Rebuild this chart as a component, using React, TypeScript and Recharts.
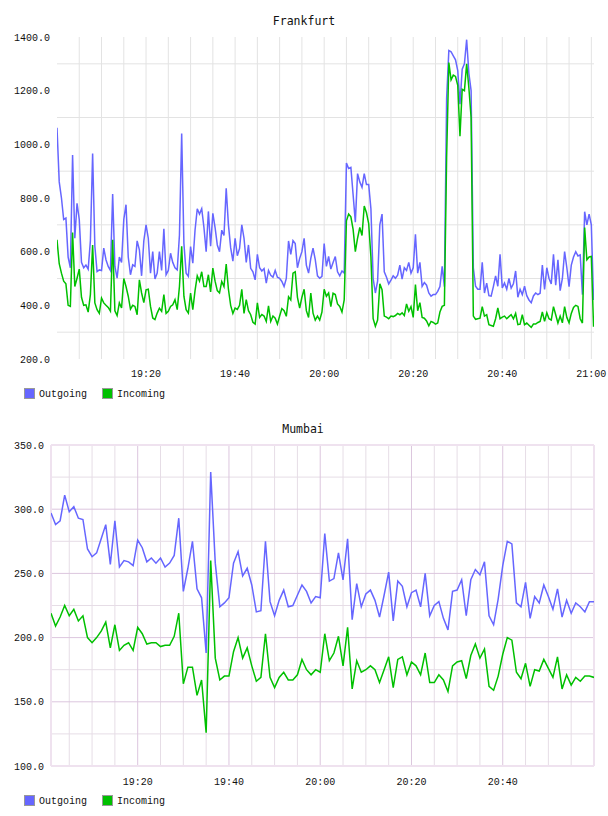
import React from 'react';
import { LineChart, Line, XAxis, YAxis, CartesianGrid } from 'recharts';

const OUT_COLOR = '#6666ff';
const IN_COLOR = '#00c000';
const seriesNames = ['Outgoing', 'Incoming'];
const seriesColors = [OUT_COLOR, IN_COLOR];

const TICK_FONT = '"Liberation Mono", "DejaVu Sans Mono", monospace';
const TITLE_FONT = '"DejaVu Sans Mono", "Liberation Mono", monospace';

// ---------- Frankfurt (minutes after 19:00, sampled every half minute) ----------
const fraStepMinutes = 0.5;
const fraOutgoing = [
  1062, 860, 800, 720, 725, 580, 540, 960, 650, 780, 720, 560, 540, 550, 535, 640, 966, 620, 526, 532,
  530, 613, 570, 545, 530, 815, 545, 501, 580, 560, 720, 775, 580, 514, 551, 545, 640, 607, 510, 640,
  700, 650, 520, 600, 498, 520, 600, 530, 685, 514, 530, 594, 560, 540, 532, 662, 1040, 631, 520, 508,
  619,
  557, 680, 760, 740, 760, 690, 600, 750, 620, 743, 690, 625, 600, 680, 660, 836, 700, 615, 565, 650,
  585, 612, 700, 650, 560, 625, 538, 525, 495, 590, 540, 528, 537, 483, 530, 512, 505, 530, 505, 501,
  489, 470, 500, 640, 590, 641, 630, 540, 575, 600, 650, 550, 520, 575, 613, 570, 510, 501, 508, 630,
  545, 582, 535, 560, 582, 525, 510, 528, 520, 930, 910, 914, 812, 710, 891, 860, 840, 891, 850, 850,
  760, 500, 446, 490, 700, 740, 525, 505, 480, 494, 510, 501, 512, 550, 498, 540, 530, 560, 520, 540,
  665, 520, 560, 471, 485, 475, 446, 434, 440, 440, 452, 470, 545, 470, 1170, 1350, 1345, 1330, 1315, 1275,
  1150, 1280, 1300, 1390, 1265, 1200, 540, 471, 460, 460, 560, 446, 483, 436, 434, 470, 510, 471, 590, 465,
  483, 460, 500, 464, 480, 528, 430, 460, 440, 471, 436, 420, 410, 435, 446, 440, 445, 550, 459, 540,
  500, 480, 590, 475, 570, 455, 500, 600, 540, 470, 550, 580, 600, 584, 588, 440, 749, 700, 740, 700,
  420,
];
const fraIncoming = [
  644, 555, 520, 490, 480, 400, 396, 671, 470, 501, 535, 430, 400, 402, 375, 440, 625, 409, 384, 370,
  427, 409, 400, 392, 378, 644, 380, 362, 409, 390, 500, 470, 434, 386, 400, 396, 365, 495, 446, 410,
  458, 460, 396, 353, 347, 371, 389, 378, 440, 370, 378, 396, 402, 421, 384, 470, 620, 434, 384, 371,
  446,
  384, 455, 510, 490, 525, 470, 470, 514, 450, 539, 490, 455, 446, 489, 470, 554, 460, 400, 370, 390,
  385, 400, 460, 370, 421, 380, 365, 337, 330, 409, 355, 366, 360, 340, 398, 340, 360, 352, 330, 360,
  388, 380, 359, 432, 420, 520, 525, 430, 390, 430, 460, 380, 355, 446, 371, 345, 360, 345, 375, 460,
  434, 446, 395, 445, 440, 405, 396, 375, 420, 715, 740, 730, 683, 600, 650, 690, 660, 770, 745, 705,
  580, 350, 322, 345, 480, 458, 360, 356, 350, 360, 358, 362, 370, 365, 372, 362, 405, 378, 395, 355,
  477, 380, 410, 355, 352, 342, 324, 340, 336, 330, 334, 375, 396, 400, 950, 1305, 1240, 1258, 1253, 1220,
  1030, 1205, 1200, 1300, 1210, 1100, 360, 348, 350, 352, 395, 360, 365, 328, 325, 322, 350, 390, 350, 356,
  360, 350, 358, 365, 350, 370, 328, 330, 365, 328, 334, 326, 318, 330, 330, 336, 340, 375, 340, 372,
  350, 345, 395, 365, 334, 360, 335, 395, 355, 335, 370, 392, 400, 396, 350, 334, 690, 570, 580, 582,
  320,
];
const fraXTicks = [20, 40, 60, 80, 100, 120];
const fraXTickLabels = ['19:20', '19:40', '20:00', '20:20', '20:40', '21:00'];
const fraYTicks = [200, 400, 600, 800, 1000, 1200, 1400];
const fraHGrid = [300, 500, 700, 900, 1100, 1300];
const fraVGrid = [5, 10, 15, 20, 25, 30, 35, 40, 45, 50, 55, 60, 65, 70, 75, 80, 85, 90, 95, 100, 105, 110, 115, 120];

// ---------- Mumbai (one sample per minute, starting 19:01) ----------
const mumStartMinute = 1;
const mumOutgoing = [
  297, 288, 291, 311, 298, 302, 293, 292, 269, 263,
  266, 277, 288, 257, 291, 255, 260, 259, 256, 276,
  270, 259, 262, 258, 262, 255, 258, 264, 293, 236,
  254, 275, 238, 231, 188, 329, 258, 224, 227, 231,
  258, 267, 248, 254, 241, 220, 221, 275, 228, 217,
  229, 237, 224, 225, 233, 241, 236, 227, 232, 231,
  281, 244, 246, 266, 245, 277, 214, 242, 224, 234,
  237, 229, 216, 233, 251, 213, 244, 240, 224, 235,
  237, 224, 250, 217, 225, 228, 215, 206, 236, 237,
  245, 217, 245, 253, 249, 259, 217, 210, 230, 256,
  275, 273, 227, 224, 243, 215, 232, 227, 241, 232,
  222, 238, 216, 229, 219, 227, 224, 220, 228, 228,
];
const mumIncoming = [
  219, 209, 216, 225, 217, 222, 213, 217, 200, 196,
  200, 205, 212, 192, 210, 190, 194, 196, 190, 208,
  203, 195, 196, 196, 193, 194, 194, 201, 219, 164,
  177, 177, 155, 167, 126, 260, 184, 167, 170, 170,
  189, 200, 184, 192, 178, 166, 169, 203, 169, 161,
  169, 173, 167, 167, 171, 183, 175, 171, 175, 173,
  203, 182, 188, 201, 178, 208, 160, 182, 173, 175,
  178, 175, 165, 175, 185, 161, 183, 185, 171, 181,
  178, 171, 188, 165, 165, 171, 167, 158, 178, 181,
  182, 168, 186, 195, 184, 191, 162, 159, 170, 187,
  200, 198, 173, 168, 180, 162, 175, 174, 183, 176,
  169, 185, 160, 171, 163, 169, 166, 170, 170, 169,
];
const mumXTicks = [20, 40, 60, 80, 100];
const mumXTickLabels = ['19:20', '19:40', '20:00', '20:20', '20:40'];
const mumYTicks = [100, 150, 200, 250, 300, 350];
const mumHMinor = [125, 175, 225, 275, 325];
const mumHMajor = [150, 200, 250, 300];
const mumVMinor = [5, 10, 15, 25, 30, 35, 45, 50, 55, 65, 70, 75, 85, 90, 95, 105, 110, 115];
const mumVMajor = [20, 40, 60, 80, 100];
const mumFrameH = [100, 350];
const mumFrameV = [1, 120];

const fraData = fraOutgoing.map((v, i) => ({ t: i * fraStepMinutes, out: v, inc: fraIncoming[i] }));
const mumData = mumOutgoing.map((v, i) => ({ t: mumStartMinute + i, out: v, inc: mumIncoming[i] }));

const tickStyle = { fontFamily: TICK_FONT, fontSize: 10, fill: '#111' };
const fmtY = (v: number) => v.toFixed(1);

function LegendRow({ top }: { top: number }) {
  const xs = [24, 102];
  return (
    <g>
      {seriesNames.map((name, i) => (
        <g key={name}>
          <rect x={xs[i] + 0.5} y={top + 0.5} width={10} height={10} fill={seriesColors[i]} stroke="#999" strokeWidth={1} />
          <text x={xs[i] + 15} y={top + 8.5} fontFamily={TICK_FONT} fontSize={10} fill="#111">{name}</text>
        </g>
      ))}
    </g>
  );
}

export default function App() {
  return (
    <div style={{ position: 'absolute', left: 0, top: 0, width: 608, height: 816, background: '#fff' }}>
      <div style={{ position: 'absolute', left: 0, top: 0 }}>
        <LineChart width={608} height={400} data={fraData} margin={{ top: 37, right: 14, bottom: 11, left: 7 }}>
          <CartesianGrid stroke="#e3e3e3" horizontalValues={fraHGrid} verticalValues={fraVGrid} />
          <XAxis
            type="number"
            dataKey="t"
            domain={[0, 120.6]}
            allowDataOverflow
            ticks={fraXTicks}
            interval={0}
            tickFormatter={(v: number) => fraXTickLabels[fraXTicks.indexOf(v)]}
            axisLine={false}
            tickLine={false}
            tickSize={0}
            tickMargin={11}
            height={30}
            tick={tickStyle}
          />
          <YAxis
            type="number"
            domain={[200, 1400]}
            allowDataOverflow
            ticks={fraYTicks}
            interval={0}
            tickFormatter={fmtY}
            axisLine={false}
            tickLine={false}
            tickSize={0}
            tickMargin={7}
            width={50}
            tick={tickStyle}
          />
          <Line type="linear" dataKey="out" name={seriesNames[0]} stroke={OUT_COLOR} strokeWidth={1.5} dot={false} isAnimationActive={false} />
          <Line type="linear" dataKey="inc" name={seriesNames[1]} stroke={IN_COLOR} strokeWidth={1.5} dot={false} isAnimationActive={false} />
        </LineChart>
      </div>
      <div style={{ position: 'absolute', left: 0, top: 410 }}>
        <LineChart width={608} height={406} data={mumData} margin={{ top: 35, right: 14, bottom: 20, left: 7 }}>
          <CartesianGrid stroke="#e6dde6" horizontalValues={mumHMinor} verticalValues={mumVMinor} />
          <CartesianGrid stroke="#dcc6de" horizontalValues={mumHMajor} verticalValues={mumVMajor} />
          <CartesianGrid stroke="#efe2ef" strokeWidth={2} horizontalValues={mumFrameH} verticalValues={mumFrameV} />
          <XAxis
            type="number"
            dataKey="t"
            domain={[1, 120]}
            allowDataOverflow
            ticks={mumXTicks}
            interval={0}
            tickFormatter={(v: number) => mumXTickLabels[mumXTicks.indexOf(v)]}
            axisLine={false}
            tickLine={false}
            tickSize={0}
            tickMargin={12}
            height={30}
            tick={tickStyle}
          />
          <YAxis
            type="number"
            domain={[100, 350]}
            allowDataOverflow
            ticks={mumYTicks}
            interval={0}
            tickFormatter={fmtY}
            axisLine={false}
            tickLine={false}
            tickSize={0}
            tickMargin={7}
            width={44}
            tick={tickStyle}
          />
          <Line type="linear" dataKey="out" name={seriesNames[0]} stroke={OUT_COLOR} strokeWidth={1.5} dot={false} isAnimationActive={false} />
          <Line type="linear" dataKey="inc" name={seriesNames[1]} stroke={IN_COLOR} strokeWidth={1.5} dot={false} isAnimationActive={false} />
        </LineChart>
      </div>
      <svg width={608} height={816} style={{ position: 'absolute', left: 0, top: 0, pointerEvents: 'none' }}>
        <text x={304} y={25} textAnchor="middle" fontFamily={TITLE_FONT} fontSize={11.5} fill="#111">Frankfurt</text>
        <text x={303} y={433} textAnchor="middle" fontFamily={TITLE_FONT} fontSize={11.5} fill="#111">Mumbai</text>
        <LegendRow top={388} />
        <LegendRow top={795} />
      </svg>
    </div>
  );
}
